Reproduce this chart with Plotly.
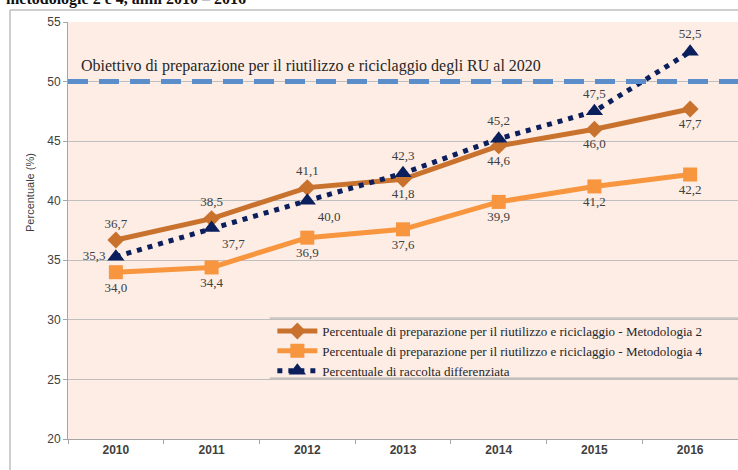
import plotly.graph_objects as go

years = ["2010", "2011", "2012", "2013", "2014", "2015", "2016"]
metodologia2 = [36.7, 38.5, 41.1, 41.8, 44.6, 46.0, 47.7]
metodologia4 = [34.0, 34.4, 36.9, 37.6, 39.9, 41.2, 42.2]
raccolta = [35.3, 37.7, 40.0, 42.3, 45.2, 47.5, 52.5]
obiettivo = 50

pos_m2 = ["top center", "top center", "top center", "bottom center", "bottom center", "bottom center", "bottom center"]
pos_m4 = ["bottom center"] * 7
pos_rd = ["middle left", "bottom right", "bottom right", "top center", "top center", "top center", "top center"]

names = [
    "Percentuale di preparazione per il riutilizzo e riciclaggio - Metodologia 2",
    "Percentuale di preparazione per il riutilizzo e riciclaggio - Metodologia 4",
    "Percentuale di raccolta differenziata",
]

def fmt(v):
    return f"{v:.1f}".replace(".", ",")

serif = "Liberation Serif"
sans = "Liberation Sans"
lab_font = dict(family=serif, size=13, color="#404040")

fig = go.Figure()
fig.add_trace(go.Scatter(
    x=years, y=metodologia2, name=names[0], mode="lines+markers+text",
    line=dict(color="#C8722E", width=5),
    marker=dict(symbol="diamond", size=13, color="#C8722E"),
    text=[fmt(v) for v in metodologia2], textposition=pos_m2, textfont=lab_font,
))
fig.add_trace(go.Scatter(
    x=years, y=metodologia4, name=names[1], mode="lines+markers+text",
    line=dict(color="#F7963F", width=5),
    marker=dict(symbol="square", size=14, color="#F7963F"),
    text=[fmt(v) for v in metodologia4], textposition=pos_m4, textfont=lab_font,
))
fig.add_trace(go.Scatter(
    x=years, y=raccolta, name=names[2], mode="lines+markers+text",
    line=dict(color="#0B1F5C", width=5, dash="5px,6px"),
    marker=dict(symbol="triangle-up", size=15, color="#0B1F5C"),
    text=[fmt(v) for v in raccolta], textposition=pos_rd, textfont=lab_font,
))

shapes = [
    dict(type="line", xref="paper", yref="y", x0=0, x1=1, y0=obiettivo, y1=obiettivo,
         line=dict(color="#5B8DCB", width=5, dash="20px,11px"), layer="above"),
    # outer chart frame
    dict(type="line", xref="paper", yref="paper", x0=-0.0866, x1=-0.0866, y0=1.0288, y1=-0.08,
         line=dict(color="#BFBFBF", width=1.5)),
    dict(type="line", xref="paper", yref="paper", x0=-0.0866, x1=1.01, y0=1.0288, y1=1.0288,
         line=dict(color="#BFBFBF", width=1.5)),
    # legend borders
    dict(type="line", xref="paper", yref="paper", x0=0.301, x1=1.0, y0=0.29, y1=0.29,
         line=dict(color="#A6A6A6", width=1)),
    dict(type="line", xref="paper", yref="paper", x0=0.301, x1=1.0, y0=0.146, y1=0.146,
         line=dict(color="#A6A6A6", width=1)),
]

annotations = [
    dict(text="Obiettivo di preparazione per il riutilizzo e riciclaggio degli RU al 2020",
         xref="paper", yref="paper", x=0.016, y=0.895, xanchor="left", yanchor="middle",
         showarrow=False, font=dict(family=serif, size=16, color="#262626")),
    dict(text="Percentuale (%)", xref="paper", yref="paper", x=-0.0567, y=0.59,
         textangle=-90, showarrow=False, xanchor="center", yanchor="middle",
         font=dict(family=sans, size=11, color="#404040")),
    dict(text="<b>metodologie 2 e 4, anni 2010 – 2016</b>", xref="paper", yref="paper",
         x=-0.095, y=1.055, xanchor="left", yanchor="middle", showarrow=False,
         font=dict(family=serif, size=16, color="#111111")),
]

fig.update_layout(
    width=738, height=470,
    margin=dict(l=68, r=0, t=22, b=31),
    paper_bgcolor="white",
    plot_bgcolor="#FDEDE5",
    shapes=shapes,
    annotations=annotations,
    showlegend=True,
    legend=dict(x=0.305, y=0.295, xanchor="left", yanchor="top",
                bgcolor="rgba(0,0,0,0)", borderwidth=0,
                font=dict(family=serif, size=13, color="#262626"),
                tracegroupgap=0, itemwidth=40),
    xaxis=dict(type="category", range=[-0.5, 6.5], showgrid=False,
               showline=True, linecolor="#A6A6A6", linewidth=1,
               ticks="outside", tickson="boundaries", ticklen=4, tickcolor="#A6A6A6",
               tickfont=dict(family=sans, size=12, color="#404040", weight="bold")),
    yaxis=dict(range=[20, 55], dtick=5, tick0=20, showgrid=True, gridcolor="#BFBFBF", gridwidth=1,
               showline=True, linecolor="#A6A6A6", linewidth=1,
               ticks="outside", ticklen=4, tickcolor="#A6A6A6", zeroline=False,
               tickfont=dict(family=sans, size=12, color="#404040")),
)

fig.write_html("out.html")
